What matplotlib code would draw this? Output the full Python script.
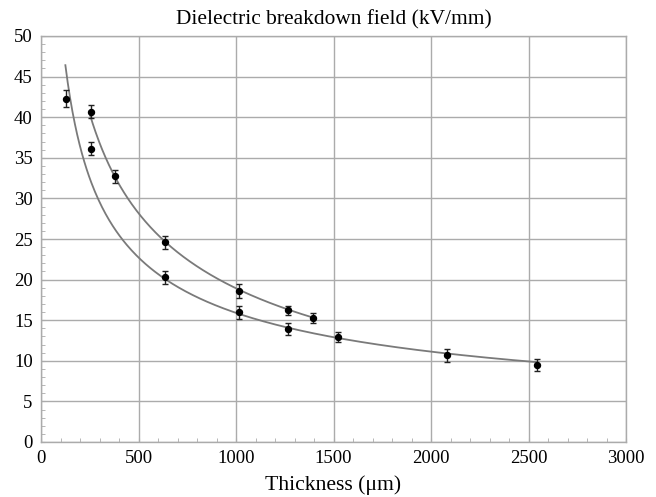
import numpy as np
import matplotlib
matplotlib.use("Agg")
import matplotlib.pyplot as plt
from matplotlib.ticker import MultipleLocator

# Series A (lower fit curve)
thick_a = [127, 255, 634, 1015, 1268, 1525, 2080, 2542]
field_a = [42.3, 36.1, 20.3, 16.0, 13.9, 12.9, 10.7, 9.5]
err_a = [1.1, 0.8, 0.8, 0.8, 0.7, 0.6, 0.8, 0.7]

# Series B (upper fit curve)
thick_b = [255, 381, 634, 1015, 1268, 1397]
field_b = [40.7, 32.7, 24.6, 18.6, 16.2, 15.25]
err_b = [0.8, 0.8, 0.8, 0.9, 0.5, 0.6]

# Fit curves: E = A * d**(-n) + c
fit_a = dict(A=557.8, n=0.515, c=0.0, dmin=125, dmax=2540)
fit_b = dict(A=459.0, n=0.4, c=-10.03, dmin=251, dmax=1397)

xticks = [0, 500, 1000, 1500, 2000, 2500, 3000]
yticks = [0, 5, 10, 15, 20, 25, 30, 35, 40, 45, 50]

plt.rcParams['font.family'] = ['Liberation Serif', 'DejaVu Serif']

fig = plt.figure(figsize=(6.56, 4.97), dpi=100)
ax = fig.add_axes([41/656, 1-442/497, (626-41)/656, (442-36)/497])

grid_col = '#ababab'
ax.set_xlim(0, 3000)
ax.set_ylim(0, 50)
ax.set_xticks(xticks)
ax.set_yticks(yticks)
ax.xaxis.set_minor_locator(MultipleLocator(100))
ax.yaxis.set_minor_locator(MultipleLocator(1))
ax.grid(True, which='major', color=grid_col, linewidth=1.0)
ax.set_axisbelow(True)
for s in ax.spines.values():
    s.set_color(grid_col)
    s.set_linewidth(1.0)
ax.tick_params(which='both', direction='in', color=grid_col, labelsize=13.5, pad=6)
ax.tick_params(which='major', length=3)
ax.tick_params(which='minor', length=3)

for fit in (fit_a, fit_b):
    d = np.linspace(fit['dmin'], fit['dmax'], 400)
    ax.plot(d, fit['A'] * d ** (-fit['n']) + fit['c'], color='#7a7a7a', lw=1.3, zorder=2)

for xs, ys, es in ((thick_a, field_a, err_a), (thick_b, field_b, err_b)):
    ax.errorbar(xs, ys, yerr=es, fmt='o', color='black', ms=4.3, capsize=2.5,
                elinewidth=1.0, capthick=1.0, ecolor='#222222', zorder=3)

ax.set_title('Dielectric breakdown field (kV/mm)', fontsize=15.4, pad=8)
ax.set_xlabel('Thickness (μm)', fontsize=15.6, labelpad=6)

fig.savefig('out.png', dpi=100)
